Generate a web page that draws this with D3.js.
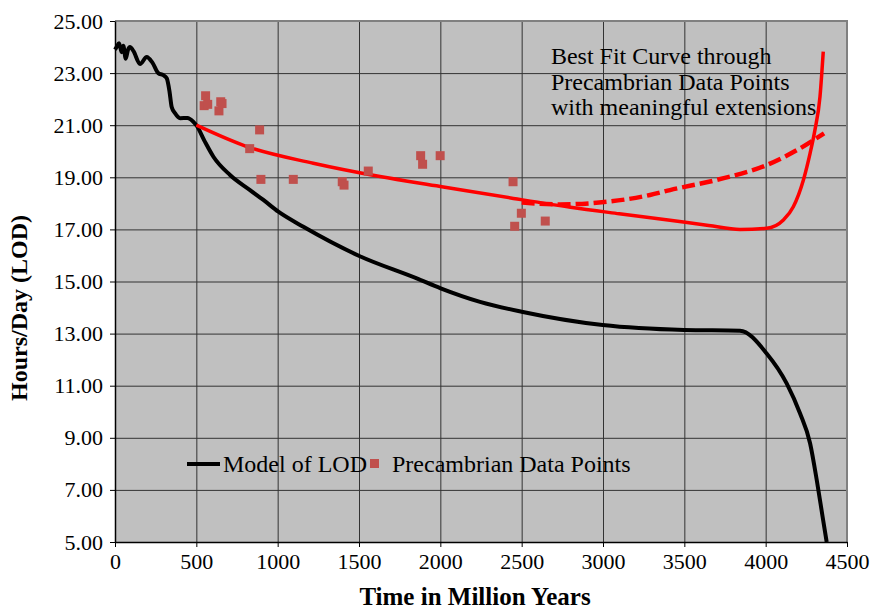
<!DOCTYPE html>
<html>
<head>
<meta charset="utf-8">
<script src="https://cdn.jsdelivr.net/npm/d3@7"></script>
<style>
	body { margin: 0; background: #fff; }
	svg text { font-family: "Liberation Serif", "Times New Roman", serif; fill: #000; }
	.grid line { stroke: #333; stroke-width: 1; }
	.grid path { display: none; }
	.axis path, .axis line { stroke: #000; }
	.axis text { font-size: 22px; }
</style>
</head>
<body>
<div id="graphic"></div>
<script>
// x-axis ticks (million years) and y-axis ticks (hours/day)
const xTicks = [0, 500, 1000, 1500, 2000, 2500, 3000, 3500, 4000, 4500];
const yTicks = [5, 7, 9, 11, 13, 15, 17, 19, 21, 23, 25];

// Model of LOD (black)
const modelLOD = [
	[0, 23.9], [10, 24.0], [25, 24.15], [41, 23.8], [51, 24.05], [66, 23.55], [80, 23.9],
	[92, 24.0], [113, 23.85], [154, 23.35], [195, 23.62], [230, 23.4], [266, 23.0],
	[297, 22.92], [318, 22.8], [335, 22.3], [348, 21.71], [370, 21.45], [400, 21.27],
	[445, 21.28], [482, 21.13], [502, 20.98], [550, 20.4], [605, 19.79], [707, 19.09],
	[830, 18.51], [912, 18.13], [1004, 17.68], [1158, 17.1], [1502, 15.98], [1855, 15.12],
	[2002, 14.74], [2244, 14.22], [2500, 13.84], [2998, 13.33], [3498, 13.14], [3842, 13.11],
	[4006, 12.24], [4129, 11.09], [4211, 9.94], [4273, 8.79], [4314, 7.38], [4350, 5.97], [4375, 5.0]
];

// Precambrian data points (red squares)
const precambrian = [
	[548, 21.75], [557, 22.13], [570, 21.8], [639, 21.55], [650, 21.9], [658, 21.83],
	[828, 20.1], [889, 20.82], [897, 18.92], [1096, 18.92], [1397, 18.83], [1408, 18.7],
	[1557, 19.24], [1879, 19.83], [1891, 19.5], [1999, 19.83], [2447, 18.83], [2457, 17.12],
	[2498, 17.62], [2645, 17.32]
];

// best fit curve, solid red
const bestFit = [
	[500, 21.0], [810, 20.18], [1219, 19.54], [1629, 19.03], [2000, 18.65], [2449, 18.19],
	[2800, 17.85], [3100, 17.6], [3412, 17.35], [3650, 17.15], [3842, 17.0], [4006, 17.04],
	[4109, 17.36], [4170, 17.87], [4232, 18.9], [4273, 19.92], [4303, 20.82], [4334, 22.1],
	[4354, 23.82]
];

// meaningful extension, dashed red
const extension = [
	[2500, 18.03], [2736, 17.96], [2992, 18.04], [3289, 18.32], [3412, 18.51],
	[3699, 18.9], [4006, 19.47], [4211, 20.11], [4359, 20.69]
];

const noteLines = ["Best Fit Curve through", "Precambrian Data Points", "with meaningful extensions"];

const margin = { top: 21, right: 27, bottom: 67, left: 115 };
const width = 874, height = 609;
const chart_width = width - margin.left - margin.right;
const chart_height = height - margin.top - margin.bottom;
const serif = '"Liberation Serif", "Times New Roman", serif';

const svg = d3.select('#graphic').append('svg')
	.attr('width', width)
	.attr('height', height);

const g = svg.append('g').attr('transform', `translate(${margin.left},${margin.top})`);

const x = d3.scaleLinear().domain([0, 4500]).range([0, chart_width]);
const y = d3.scaleLinear().domain([5, 25]).range([chart_height, 0]);

// plot background
g.append('rect')
	.attr('width', chart_width)
	.attr('height', chart_height)
	.attr('fill', '#c0c0c0');

// grid lines
g.append('g')
	.attr('class', 'grid')
	.call(d3.axisLeft(y).tickValues(yTicks.filter(d => d > 5 && d < 25)).tickSize(-chart_width).tickFormat(''));
g.append('g')
	.attr('class', 'grid')
	.attr('transform', `translate(0,${chart_height})`)
	.call(d3.axisBottom(x).tickValues(xTicks.filter(d => d > 0 && d < 4500)).tickSize(-chart_height).tickFormat(''));

// border top/right
g.append('path')
	.attr('d', `M0,0H${chart_width}V${chart_height}`)
	.attr('fill', 'none')
	.attr('stroke', '#808080')
	.attr('stroke-width', 2);

// axes
g.append('g')
	.attr('class', 'axis')
	.call(d3.axisLeft(y).tickValues(yTicks).tickSize(5).tickSizeOuter(0).tickPadding(7).tickFormat(d3.format('.2f')))
	.attr('font-family', serif)
	.attr('font-size', 22);
g.append('g')
	.attr('class', 'axis')
	.attr('transform', `translate(0,${chart_height})`)
	.call(d3.axisBottom(x).tickValues(xTicks).tickSize(5).tickSizeOuter(0).tickPadding(6).tickFormat(d3.format('d')))
	.attr('font-family', serif)
	.attr('font-size', 22);
g.selectAll('.axis .domain').attr('stroke-width', 1.5);

const line = d3.line()
	.x(d => x(d[0]))
	.y(d => y(d[1]))
	.curve(d3.curveMonotoneX);

g.append('path')
	.datum(modelLOD)
	.attr('d', line)
	.attr('fill', 'none')
	.attr('stroke', '#000')
	.attr('stroke-width', 4)
	.attr('stroke-linejoin', 'round');

g.append('path')
	.datum(bestFit)
	.attr('d', line)
	.attr('fill', 'none')
	.attr('stroke', '#ff0000')
	.attr('stroke-width', 3.5);

g.append('path')
	.datum(extension)
	.attr('d', line)
	.attr('fill', 'none')
	.attr('stroke', '#ff0000')
	.attr('stroke-width', 4.5)
	.attr('stroke-dasharray', '13,5');

g.selectAll('rect.pt')
	.data(precambrian)
	.enter()
	.append('rect')
	.attr('class', 'pt')
	.attr('x', d => x(d[0]) - 4.5)
	.attr('y', d => y(d[1]) - 4.5)
	.attr('width', 9)
	.attr('height', 9)
	.attr('fill', '#c0504d');

// annotation
const note = g.append('text')
	.attr('x', x(2680))
	.attr('y', 43)
	.attr('font-size', 24);
note.selectAll('tspan')
	.data(noteLines)
	.enter()
	.append('tspan')
	.attr('x', x(2680))
	.attr('dy', (d, i) => i === 0 ? 0 : 25.5)
	.text(d => d);

// legend
const legend = svg.append('g').attr('transform', 'translate(187,464)');
legend.append('line')
	.attr('x1', 0).attr('x2', 33)
	.attr('stroke', '#000').attr('stroke-width', 4);
legend.append('text')
	.attr('x', 36).attr('y', 8)
	.attr('font-size', 24)
	.text('Model of LOD');
legend.append('rect')
	.attr('x', 183).attr('y', -5)
	.attr('width', 9).attr('height', 9)
	.attr('fill', '#c0504d');
legend.append('text')
	.attr('x', 205).attr('y', 8)
	.attr('font-size', 24)
	.text('Precambrian Data Points');

// axis titles
svg.append('text')
	.attr('x', 475)
	.attr('y', 605)
	.attr('text-anchor', 'middle')
	.attr('font-size', 25)
	.attr('font-weight', 'bold')
	.text('Time in Million Years');

svg.append('text')
	.attr('transform', 'translate(27,308) rotate(-90)')
	.attr('text-anchor', 'middle')
	.attr('font-size', 24)
	.attr('font-weight', 'bold')
	.text('Hours/Day (LOD)');
</script>
</body>
</html>
